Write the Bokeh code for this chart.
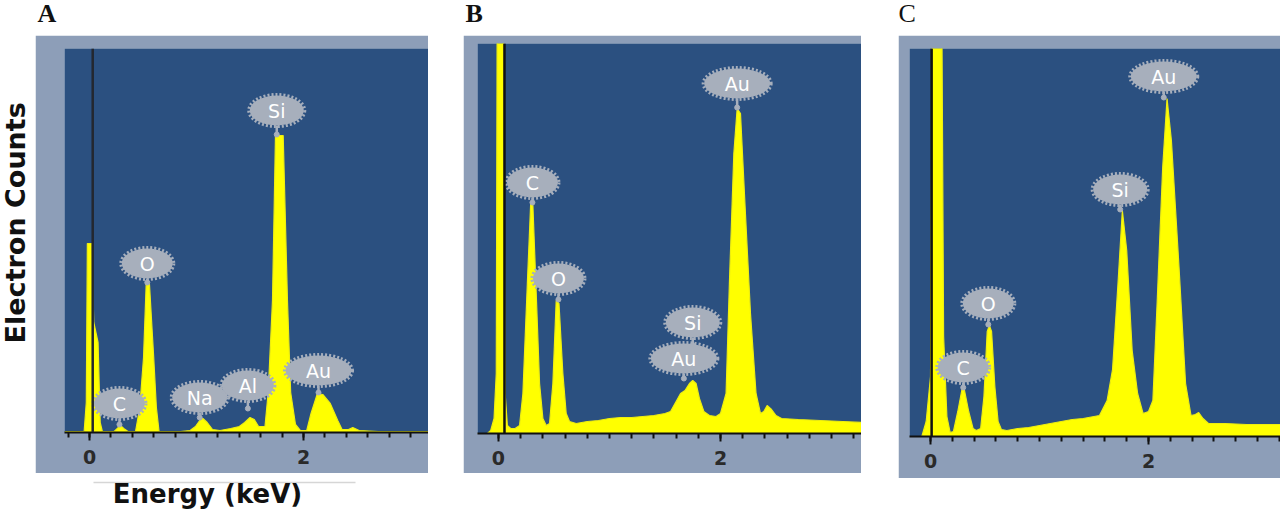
import math
from bokeh.plotting import figure
from bokeh.layouts import row, column
from bokeh.models import Range1d, Span, SingleIntervalTicker, Spacer, Label, BoxAnnotation
from bokeh.embed import file_html
from bokeh.resources import INLINE
from bokeh.core.properties import value

# ---------------- data (energy in keV, counts in arbitrary units) ----------------
# Panel A
E_A = [-0.23, -0.05, -0.03, -0.02, 0.02, 0.04, 0.08, 0.10, 0.12, 0.18, 0.23, 0.26, 0.29, 0.32, 0.36,
       0.43, 0.47, 0.505, 0.53, 0.56, 0.60, 0.625, 0.65, 0.72, 0.85, 0.94, 0.99, 1.03, 1.06, 1.10, 1.15,
       1.22, 1.32, 1.40, 1.45, 1.50, 1.54, 1.58, 1.64, 1.67, 1.71, 1.738, 1.81, 1.85, 1.88, 1.925, 1.97,
       2.03, 2.07, 2.13, 2.18, 2.25, 2.32, 2.36, 2.42, 2.46, 2.52, 2.70, 3.00, 3.17]
C_A = [1, 1, 30, 189, 189, 110, 90, 10, 1, 1, 1, 4, 7, 4, 1,
       1, 25, 75, 149, 149, 75, 25, 1, 1, 1, 2, 6, 12, 14, 10, 3,
       2, 4, 6, 10, 15, 13, 6, 6, 40, 132, 297, 297, 132, 40, 8, 2,
       2, 19, 39, 38, 29, 12, 3, 3, 5, 2, 1, 1, 1]

# Panel B
E_B = [-0.19, -0.10, -0.07, -0.04, -0.02, -0.01, 0.04, 0.06, 0.08, 0.11, 0.15, 0.19, 0.22, 0.26,
       0.29, 0.31, 0.34, 0.37, 0.40, 0.43, 0.46, 0.49, 0.52, 0.545, 0.58, 0.61, 0.64, 0.70, 0.80,
       0.90, 1.00, 1.10, 1.20, 1.30, 1.40, 1.50, 1.55, 1.60, 1.64, 1.68, 1.72, 1.75, 1.78, 1.81,
       1.85, 1.90, 1.96, 2.00, 2.05, 2.08, 2.12, 2.15, 2.18, 2.22, 2.27, 2.32, 2.36, 2.39, 2.42,
       2.46, 2.50, 2.55, 2.70, 2.90, 3.10, 3.27]
C_B = [0, 0, 3, 15, 60, 500, 500, 40, 8, 5, 5, 8, 40, 150,
       230, 228, 140, 50, 15, 8, 10, 50, 133, 130, 60, 20, 12, 10, 12,
       13, 15, 16, 16, 17, 18, 20, 22, 32, 40, 43, 50, 53, 50, 35,
       22, 18, 17, 20, 40, 150, 280, 325, 320, 230, 120, 40, 20, 22, 28,
       24, 18, 15, 14, 13, 12, 11]

# Panel C
E_C = [-0.19, -0.08, -0.04, 0.00, 0.02, 0.10, 0.12, 0.15, 0.18, 0.21, 0.25, 0.29, 0.31, 0.35,
       0.39, 0.42, 0.46, 0.49, 0.52, 0.54, 0.56, 0.59, 0.62, 0.65, 0.70, 0.80, 0.90, 1.00, 1.10,
       1.20, 1.30, 1.40, 1.50, 1.55, 1.62, 1.67, 1.72, 1.76, 1.80, 1.85, 1.90, 1.95, 2.00, 2.04,
       2.08, 2.13, 2.17, 2.21, 2.28, 2.34, 2.39, 2.43, 2.46, 2.50, 2.55, 2.70, 2.90, 3.21]
C_C = [0, 0, 15, 60, 500, 500, 100, 20, 4, 5, 25, 48, 47, 25,
       8, 6, 8, 40, 105, 111, 105, 50, 15, 7, 6, 8, 9, 11, 13,
       15, 17, 18, 20, 21, 36, 67, 153, 226, 186, 86, 43, 23, 25, 36,
       136, 269, 338, 296, 169, 53, 21, 22, 24, 18, 13, 13, 12, 12]

# Peak labels: element, energy, label height, stem anchor height
LAB_A = ["C", "O", "Na", "Al", "Si", "Au"]
LAB_A_E = [0.28, 0.54, 1.03, 1.48, 1.75, 2.14]
LAB_A_Y = [29, 169, 35, 47, 322, 62]
LAB_A_ANCHOR = [8, 150, 15, 24, 298, 40]

LAB_B = ["C", "O", "Si", "Au", "Au"]
LAB_B_E = [0.306, 0.54, 1.75, 1.67, 2.15]
LAB_B_Y = [251, 155, 111, 75, 350]
LAB_B_ANCHOR = [231, 134, 88, 55, 326]

LAB_C = ["C", "O", "Si", "Au"]
LAB_C_E = [0.30, 0.53, 1.74, 2.14]
LAB_C_Y = [69, 133, 247, 360]
LAB_C_ANCHOR = [49, 112, 227, 339]

# zero-energy marker line (keV)
ZERO_A, ZERO_B, ZERO_C = 0.03, 0.054, 0.01

# ---------------- styles ----------------
BLUE = "#2b5080"
FRAME = "#8d9eb8"
YELLOW = "#ffff00"
BUB = "#a7afbc"
BUB_W = {"Au": 66, "Si": 54, "Na": 55, "Al": 52}


def panel(E, C, labs, lab_e, lab_y, lab_anchor, zero, w, h, left, top, bottom, xr, ymax, zero_color):
    p = figure(width=w, height=h, x_range=Range1d(*xr), y_range=Range1d(0, ymax),
               y_axis_location=None, toolbar_location=None, output_backend="svg",
               min_border_left=left, min_border_right=0, min_border_top=top,
               min_border_bottom=bottom, background_fill_color=BLUE,
               border_fill_color=FRAME, outline_line_color=None)
    p.grid.visible = False
    p.varea(x=E, y1=0, y2=C, fill_color=YELLOW, fill_alpha=1)
    p.line(E, C, line_color="#eeee10", line_width=1.2)

    p.add_layout(Span(location=zero, dimension="height", line_color=zero_color, line_width=2.5))

    bottoms = [y - 15 for y in lab_y]
    p.segment(x0=lab_e, y0=lab_anchor, x1=lab_e, y1=bottoms, line_color=BUB, line_width=2.5)
    p.scatter(lab_e, lab_anchor, size=5, color=BUB)
    widths = [BUB_W.get(t, 51) for t in labs]
    p.ellipse(x=lab_e, y=lab_y, width=widths, height=30, width_units="screen",
              height_units="screen", fill_color=BUB, line_color=None)
    p.ellipse(x=lab_e, y=lab_y, width=[wd + 2 for wd in widths], height=32, width_units="screen",
              height_units="screen", fill_color=None, line_color=BUB, line_width=3,
              line_dash="2 2")
    p.text(x=lab_e, y=lab_y, text=labs, text_align="center", text_baseline="middle",
           text_color="white", text_font=value("DejaVu Sans"), text_font_size="19px")

    ax = p.xaxis[0]
    ax.ticker = SingleIntervalTicker(interval=2, num_minor_ticks=10)
    ax.axis_line_color = "#111111"
    ax.axis_line_width = 2
    ax.major_tick_in = 0
    ax.major_tick_out = 8
    ax.minor_tick_in = 0
    ax.minor_tick_out = 5
    ax.major_tick_line_color = "#111111"
    ax.minor_tick_line_color = "#111111"
    ax.major_tick_line_width = 2
    ax.minor_tick_line_width = 2
    ax.major_label_text_font = "DejaVu Sans"
    ax.major_label_text_font_style = "bold"
    ax.major_label_text_font_size = "19px"
    ax.major_label_text_color = "#2a2a2a"
    ax.major_label_standoff = 9
    return p


pA = panel(E_A, C_A, LAB_A, LAB_A_E, LAB_A_Y, LAB_A_ANCHOR, ZERO_A,
           393, 438, 29, 13, 41, (-0.2336, 3.168), 384, "#23272f")
pB = panel(E_B, C_B, LAB_B, LAB_B_E, LAB_B_Y, LAB_B_ANCHOR, ZERO_B,
           398, 438, 14, 8, 40, (-0.189, 3.270), 390, "#111111")
pC = panel(E_C, C_C, LAB_C, LAB_C_E, LAB_C_Y, LAB_C_ANCHOR, ZERO_C,
           382, 443, 11, 13, 42, (-0.193, 3.211), 388, "#111111")


def blank(w, h):
    f = figure(width=w, height=h, x_range=Range1d(0, w), y_range=Range1d(0, h),
               x_axis_location=None, y_axis_location=None, toolbar_location=None,
               output_backend="svg", min_border=0, outline_line_color=None)
    f.grid.visible = False
    return f


top = blank(1280, 35)
for txt, xx, style in [("A", 37, "bold"), ("B", 465, "bold"), ("C", 898, "normal")]:
    top.add_layout(Label(x=xx, y=8, text=txt, text_font="Liberation Serif",
                         text_font_style=style, text_font_size="26px", text_color="#111111"))

ylab = blank(35, 443)
ylab.add_layout(Label(x=15, y=244, text="Electron Counts", angle=math.pi / 2,
                      text_align="center", text_baseline="middle", text_font="DejaVu Sans",
                      text_font_style="bold", text_font_size="27px", text_color="#111111"))

bot = blank(1280, 38)
bot.add_layout(BoxAnnotation(left=93, right=355, bottom=33.3, top=34.7,
                             fill_color="#d6d6d6", fill_alpha=1, line_color=None))
bot.add_layout(Label(x=207, y=8, text="Energy (keV)", text_align="center",
                     text_font="DejaVu Sans", text_font_style="bold",
                     text_font_size="26px", text_color="#111111"))

middle = row(ylab, column(pA, Spacer(height=5)), Spacer(width=35),
             column(pB, Spacer(height=5)), Spacer(width=37), pC)
layout = column(top, middle, bot)

open("out.html", "w").write(file_html(layout, INLINE))
